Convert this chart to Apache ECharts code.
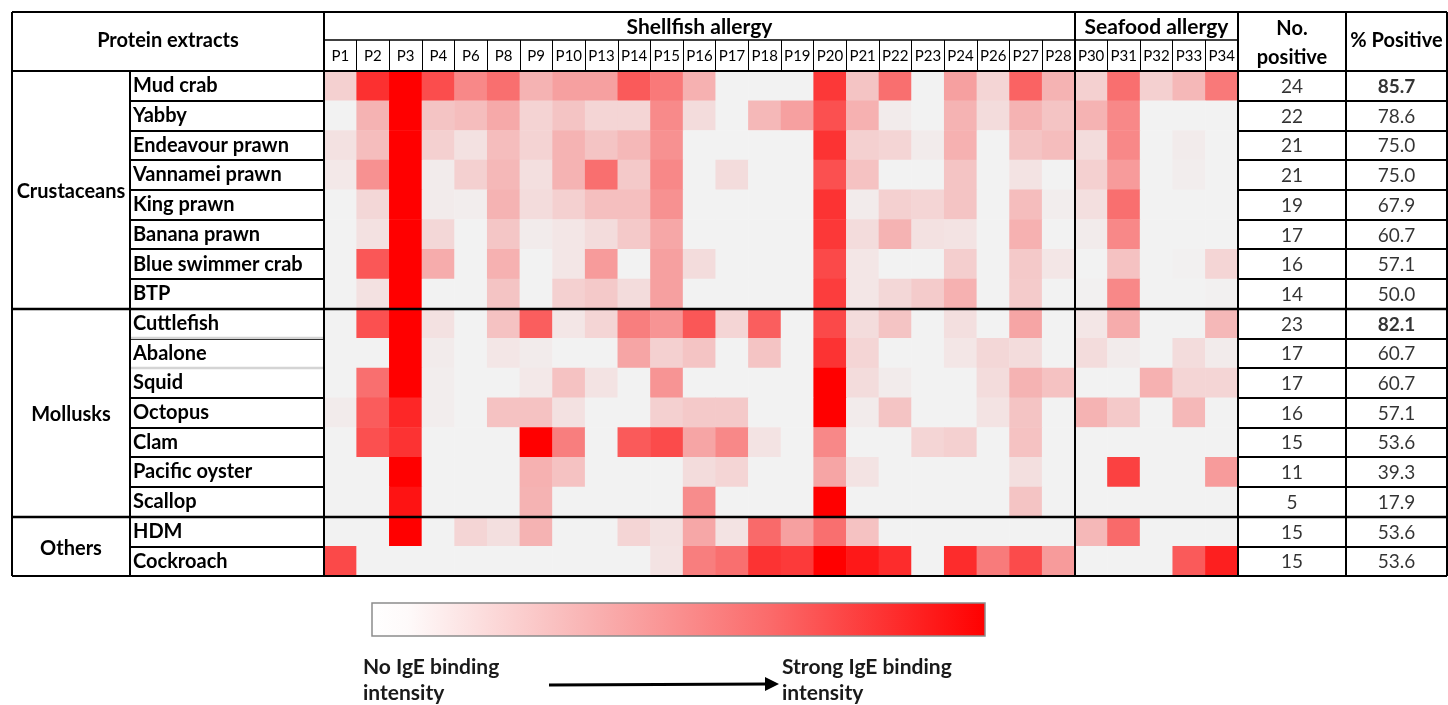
<!DOCTYPE html>
<html>
<head>
<meta charset="utf-8">
<script src="https://cdn.jsdelivr.net/npm/echarts@6/dist/echarts.min.js"></script>
<style>
  html, body { margin: 0; padding: 0; background: #ffffff; }
  #chart { width: 1448px; height: 705px; }
</style>
</head>
<body>
<div id="chart"></div>
<script>
// Patients: the first 23 have shellfish allergy, the last 5 seafood allergy
const patients = ['P1','P2','P3','P4','P6','P8','P9','P10','P13','P14','P15','P16','P17','P18','P19',
  'P20','P21','P22','P23','P24','P26','P27','P28','P30','P31','P32','P33','P34'];
const shellfishPatients = 23;

const extracts = ['Mud crab','Yabby','Endeavour prawn','Vannamei prawn','King prawn','Banana prawn',
  'Blue swimmer crab','BTP','Cuttlefish','Abalone','Squid','Octopus','Clam','Pacific oyster','Scallop',
  'HDM','Cockroach'];

const groupNames = ['Crustaceans', 'Mollusks', 'Others'];
const groupFirst = ['Mud crab', 'Cuttlefish', 'HDM'];
const groupLast = ['BTP', 'Scallop', 'Cockroach'];

// IgE binding intensity (0 = none, 10 = strongest), one row per extract, columns follow `patients`
const binding = [
  [1.4, 8, 10, 6.8, 4.4, 5.4, 2.6, 3.4, 3.4, 6.3, 5, 2.7, 0, 0, 0, 7.7, 1.9, 5.4, 0, 3.4, 1.2, 5.9, 2.6, 1.4, 5.4, 1.4, 2.4, 5],
  [0, 2.6, 10, 1.9, 2.2, 3, 1.3, 1.9, 1.2, 1.2, 4.3, 0.9, 0, 2.4, 3.4, 6.7, 2.7, 0.3, 0, 2.6, 0.9, 2.6, 1.9, 2.6, 4.4, 0, 0, 0],
  [0.7, 2.2, 10, 1.4, 0.7, 2.2, 1.3, 2.6, 1.9, 2.4, 4, 0, 0, 0, 0, 7.9, 1.4, 1.2, 0.3, 2.7, 0, 1.9, 2.2, 0.9, 4.4, 0, 0.3, 0],
  [0.4, 4, 10, 0.3, 1.4, 2.4, 0.8, 2.6, 5.4, 1.7, 4.4, 0, 0.9, 0, 0, 6.7, 2, 0, 0, 1.9, 0, 0.6, 0, 1.4, 3.6, 0, 0.2, 0],
  [0, 1.1, 10, 0.3, 0.2, 2.6, 0.9, 1.4, 2.1, 2.1, 4, 0, 0, 0, 0, 7.9, 0.3, 1.4, 1.2, 1.9, 0, 2.2, 0.2, 0.8, 5.4, 0, 0, 0],
  [0, 0.7, 10, 1.1, 0, 1.8, 0.3, 0.5, 0.9, 1.7, 3.1, 0, 0, 0, 0, 7.7, 0.9, 2.6, 0.7, 0.6, 0, 2.7, 0, 0.3, 4.4, 0, 0, 0],
  [0, 6.4, 10, 2.9, 0, 2.7, 0, 0.5, 3.6, 0, 3.4, 0.9, 0, 0, 0, 7, 0.5, 0, 0, 1.5, 0, 1.7, 0.5, 0, 2, 0, 0.1, 1.2],
  [0, 0.7, 10, 0, 0, 1.9, 0, 1.4, 1.7, 0.9, 3.4, 0, 0, 0, 0, 7.5, 0.5, 1.1, 1.6, 2.7, 0, 1.6, 0, 0.1, 4.4, 0, 0, 0.1],
  [0, 6.7, 10, 0.7, 0, 2, 6.1, 0.5, 1.2, 4.8, 3.9, 6.4, 1.2, 6.1, 0, 7, 0.9, 1.9, 0, 0.8, 0, 3.2, 0, 0.5, 2.9, 0, 0, 2.4],
  [0, 0, 10, 0.3, 0, 0.5, 0.3, 0, 0, 3.2, 1.4, 1.9, 0, 1.9, 0, 7.9, 1.2, 0, 0, 0.5, 1.1, 0.9, 0, 0.9, 0.3, 0, 0.9, 0.3],
  [0, 5.4, 10, 0.2, 0, 0, 0.4, 2, 0.6, 0, 3.9, 0, 0, 0, 0, 10, 0.9, 0.3, 0, 0, 0.9, 2.6, 2, 0, 0, 2.7, 1.2, 1.2],
  [0.3, 6.2, 8.4, 0.2, 0, 2, 2, 0.7, 0, 0, 1.4, 1.7, 1.7, 0, 0, 10, 0.3, 1.9, 0, 0, 0.6, 1.9, 0, 2.6, 1.7, 0, 2.4, 0],
  [0, 6.7, 7.9, 0, 0, 0, 10, 4.8, 0, 6.3, 6.9, 3.2, 4.4, 0.6, 0, 4.4, 0, 0, 1.2, 1.4, 0, 2, 0, 0, 0, 0, 0, 0],
  [0, 0, 10, 0, 0, 0, 2.7, 2, 0, 0, 0, 0.9, 1.2, 0, 0, 3.2, 0.6, 0, 0, 0, 0, 0.8, 0, 0, 7.3, 0, 0, 3.6],
  [0, 0, 9.2, 0, 0, 0, 2.6, 0, 0, 0, 0, 4.2, 0, 0, 0, 10, 0, 0, 0, 0, 0, 1.9, 0, 0, 0, 0, 0, 0],
  [0, 0, 10, 0, 1.2, 0.8, 2.6, 0, 0, 1.2, 0.7, 3.1, 0.6, 5.6, 3.4, 5.4, 2, 0, 0, 0, 0, 0, 0, 2.4, 5.6, 0, 0, 0],
  [7, 0, 0, 0, 0, 0, 0, 0, 0, 0, 0.6, 4.8, 5.4, 7.9, 7.6, 10, 9, 8.2, 0, 8.2, 4.9, 6.9, 3.6, 0, 0, 0, 6.3, 8.7]
];

const noPositive = [24, 22, 21, 21, 19, 17, 16, 14, 23, 17, 17, 16, 15, 11, 5, 15, 15];
const pctPositive = ['85.7', '78.6', '75.0', '75.0', '67.9', '60.7', '57.1', '50.0', '82.1', '60.7', '60.7',
  '57.1', '53.6', '39.3', '17.9', '53.6', '53.6'];
const pctHighlighted = ['Mud crab', 'Cuttlefish'];

const FONT = 'Lato, "Open Sans", "DejaVu Sans", sans-serif';
const INK = '#000000';

const cells = [];
binding.forEach((row, r) => row.forEach((v, c) => cells.push([c, r, v])));

const chart = echarts.init(document.getElementById('chart'), null, { renderer: 'canvas' });

const hiddenCat = (data, gridIndex) => ({
  type: 'category', data, gridIndex, show: false
});

chart.setOption({
  animation: false,
  backgroundColor: '#ffffff',
  textStyle: { fontFamily: FONT, color: INK },
  grid: [
    { left: 324, top: 71, width: 914, height: 505 },
    { left: 1238, top: 71, width: 108, height: 505 },
    { left: 1346, top: 71, width: 101, height: 505 }
  ],
  xAxis: [
    {
      type: 'category', data: patients, gridIndex: 0, position: 'top',
      axisLine: { show: false },
      axisTick: { show: true, interval: 0, length: 31, lineStyle: { color: INK, width: 1 } },
      axisLabel: { interval: 0, fontSize: 15, color: INK, margin: 7, fontFamily: FONT },
      splitLine: { show: false }
    },
    hiddenCat(['count'], 1),
    hiddenCat(['pct'], 2)
  ],
  yAxis: [
    {
      type: 'category', data: extracts, gridIndex: 0, inverse: true,
      axisLine: { show: true, lineStyle: { color: INK, width: 2 } },
      axisTick: { show: true, interval: 0, length: 194, lineStyle: { color: INK, width: 2 } },
      axisLabel: { interval: 0, align: 'left', margin: 191, fontSize: 20, fontWeight: 'bold', color: INK,
        fontFamily: FONT, padding: [6, 0, 0, 0] },
      splitLine: { show: false }
    },
    {
      type: 'category', data: extracts, gridIndex: 1, inverse: true,
      axisLine: { show: false }, axisTick: { show: false }, axisLabel: { show: false },
      splitLine: { show: true, interval: 0, lineStyle: { color: INK, width: 2 } }
    },
    {
      type: 'category', data: extracts, gridIndex: 2, inverse: true,
      axisLine: { show: false }, axisTick: { show: false }, axisLabel: { show: false },
      splitLine: { show: true, interval: 0, lineStyle: { color: INK, width: 2 } }
    }
  ],
  visualMap: {
    show: false, type: 'continuous', min: 0, max: 10, seriesIndex: 0,
    inRange: { color: ['#f2f2f2', '#ff0000'] }
  },
  series: [
    {
      type: 'heatmap', xAxisIndex: 0, yAxisIndex: 0, data: cells,
      itemStyle: { borderWidth: 0 },
      emphasis: { disabled: true }
    },
    {
      type: 'scatter', xAxisIndex: 1, yAxisIndex: 1, symbolSize: 1,
      itemStyle: { color: 'rgba(0,0,0,0)' },
      data: extracts.map((e, i) => ['count', e, noPositive[i]]),
      label: { show: true, position: 'inside', formatter: p => String(p.value[2]),
        fontSize: 19, color: INK, fontFamily: FONT, offset: [0, 1] }
    },
    {
      type: 'scatter', xAxisIndex: 2, yAxisIndex: 2, symbolSize: 1,
      itemStyle: { color: 'rgba(0,0,0,0)' },
      data: extracts.map((e, i) => ({
        value: ['pct', e, pctPositive[i]],
        label: { fontWeight: pctHighlighted.includes(e) ? 'bold' : 'normal' }
      })),
      label: { show: true, position: 'inside', formatter: p => p.value[2],
        fontSize: 19, color: INK, fontFamily: FONT, offset: [0, 1] }
    }
  ]
});

// Table rules, headers and the intensity key, positioned from the axes
const rowY = name => chart.convertToPixel({ yAxisIndex: 0 }, name);
const colX = name => chart.convertToPixel({ xAxisIndex: 0 }, name);
const rowH = 505 / extracts.length;
const colW = 914 / patients.length;

const TOP = 12, HEAD = 71, SUB = 40, BOTTOM = 576, LEFT = 12, RIGHT = 1447;
const GROUP_COL = 130, NAME_END = 324, HEAT_END = 1238, PCT_START = 1346;
const seafoodX = Math.round(colX(patients[shellfishPatients]) - colW / 2);

const line = (x1, y1, x2, y2, w, color) => ({
  type: 'line', silent: true, z: 50,
  shape: { x1, y1, x2, y2 },
  style: { stroke: color || INK, lineWidth: w || 2 }
});
const text = (x, y, str, size, weight, extra) => ({
  type: 'text', silent: true, z: 60, x, y,
  style: Object.assign({ text: str, font: `${weight || 'bold'} ${size}px ${FONT}`, fill: INK,
    align: 'center', verticalAlign: 'middle' }, extra || {})
});

const graphics = [
  line(LEFT, TOP, RIGHT, TOP),
  line(LEFT, HEAD, RIGHT, HEAD),
  line(NAME_END, SUB, HEAT_END, SUB, 1.5),
  line(LEFT, BOTTOM, RIGHT, BOTTOM),
  line(LEFT, TOP, LEFT, BOTTOM),
  line(GROUP_COL, HEAD, GROUP_COL, BOTTOM),
  line(NAME_END, TOP, NAME_END, BOTTOM),
  line(seafoodX, TOP, seafoodX, BOTTOM),
  line(HEAT_END, TOP, HEAT_END, BOTTOM),
  line(PCT_START, TOP, PCT_START, BOTTOM),
  line(RIGHT, TOP, RIGHT, BOTTOM),
  text((LEFT + NAME_END) / 2, 41, 'Protein extracts', 20),
  text((NAME_END + seafoodX) / 2, 27, 'Shellfish allergy', 21),
  text((seafoodX + HEAT_END) / 2, 27, 'Seafood allergy', 21),
  text((HEAT_END + PCT_START) / 2, 43, 'No.\npositive', 20, 'bold', { lineHeight: 29 }),
  text((PCT_START + RIGHT) / 2, 41, '% Positive', 20)
];

// lighter rules between the first mollusk rows of the name column
['Abalone', 'Squid'].forEach(n => {
  const y = Math.round(rowY(n) - rowH / 2);
  graphics.push(line(GROUP_COL + 1, y, NAME_END - 1, y, 2.5, '#d4d4d4'));
});

groupNames.forEach((g, i) => {
  const yTop = rowY(groupFirst[i]) - rowH / 2;
  const yBot = rowY(groupLast[i]) + rowH / 2;
  if (i > 0) graphics.push(line(LEFT, Math.round(yTop), RIGHT, Math.round(yTop), 2.5));
  graphics.push(text((LEFT + GROUP_COL) / 2, (yTop + yBot) / 2 + 2, g, 20));
});

// Intensity key below the table
graphics.push({
  type: 'rect', silent: true, z: 40,
  shape: { x: 372, y: 603, width: 613, height: 33 },
  style: {
    fill: new echarts.graphic.LinearGradient(0, 0, 1, 0, [
      { offset: 0, color: '#ffffff' },
      { offset: 0.06, color: '#fefafa' },
      { offset: 0.35, color: '#f9b4b4' },
      { offset: 0.65, color: '#fb6a6a' },
      { offset: 1, color: '#ff0000' }
    ]),
    stroke: '#8c8c8c', lineWidth: 1.5
  }
});
const keyText = { align: 'left', fill: '#1a1a1a' };
graphics.push(text(363, 667, 'No IgE binding', 21, 'bold', keyText));
graphics.push(text(363, 693, 'intensity', 21, 'bold', keyText));
graphics.push(text(782, 667, 'Strong IgE binding', 21, 'bold', keyText));
graphics.push(text(782, 693, 'intensity', 21, 'bold', keyText));
graphics.push({
  type: 'line', silent: true, z: 40,
  shape: { x1: 549, y1: 685, x2: 768, y2: 684 },
  style: { stroke: INK, lineWidth: 3 }
});
graphics.push({
  type: 'polygon', silent: true, z: 40,
  shape: { points: [[765, 677], [779, 684], [765, 691]] },
  style: { fill: INK }
});

chart.setOption({ graphic: graphics });
</script>
</body>
</html>
